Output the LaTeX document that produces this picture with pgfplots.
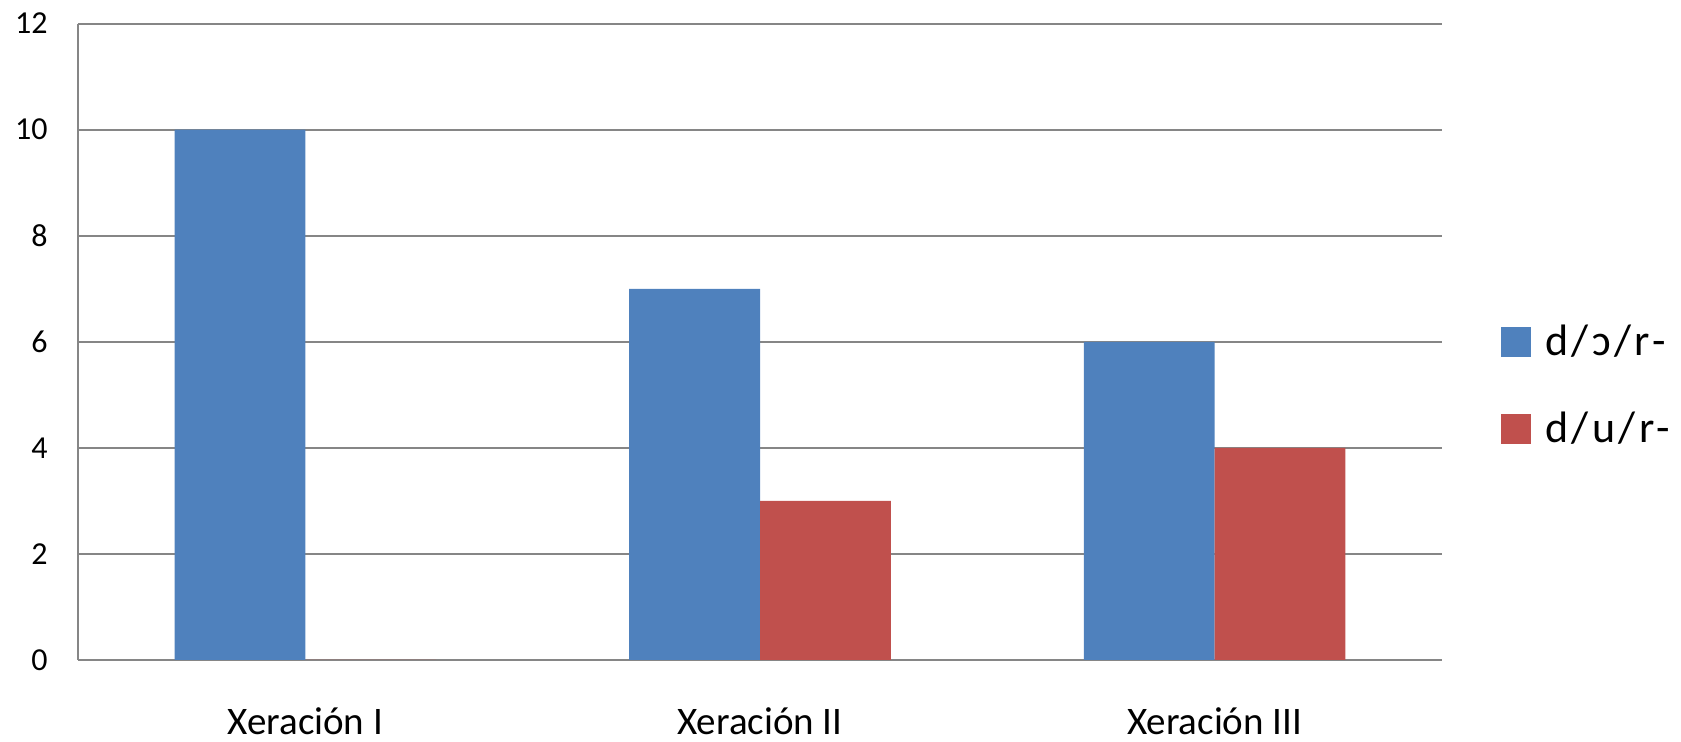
\documentclass[border=0pt]{standalone}
\usepackage{fontspec}
\setmainfont{Carlito}
\newfontfamily\legfont[LetterSpace=8]{Carlito}
\usepackage{pgfplots}
\pgfplotsset{compat=1.18}
\definecolor{serA}{RGB}{79,129,189}
\definecolor{serB}{RGB}{192,80,77}
\definecolor{gridgray}{RGB}{134,134,134}

\begin{document}
\begin{tikzpicture}
\begin{axis}[
    name=ax,
    scale only axis,
    width=682pt, height=318.2pt,
    xmin=-0.5, xmax=2.5,
    ymin=0, ymax=12,
    xtick={0,1,2},
    xticklabels={Xeración I, Xeración II, Xeración III},
    ytick={0,2,...,12},
    axis lines*=left,
    axis line style={gridgray, line width=1pt},
    ymajorgrids,
    grid style={gridgray, line width=1pt},
    major tick length=0pt,
    /pgf/number format/assume math mode=true,
    yticklabel style={font=\fontsize{16}{19}\selectfont, anchor=east, inner sep=0pt, xshift=-15pt},
    xticklabel style={font=\fontsize{19.5}{23}\selectfont, anchor=north, inner sep=0pt, yshift=-23.7pt},
    legend style={at={(1.043,0.4316)}, anchor=west, draw=none, fill=none, inner sep=0pt,
        font=\legfont\fontsize{22}{26}\selectfont, row sep=27pt,
        nodes={inner sep=0pt}},
    legend cell align=left,
    legend image code/.code={\fill[#1] (0pt,-7.5pt) rectangle (15pt,7.5pt);},
    /tikz/every odd column/.append style={column sep=7pt},
]
% d/ɔ/r-
\addplot[fill=serA, draw=none, ybar, bar width=0.2877, bar shift=-0.14385]
    coordinates {(0,10) (1,7) (2,6)};
\addlegendentry{d/ɔ/r-}
% d/u/r-
\addplot[fill=serB, draw=none, ybar, bar width=0.2877, bar shift=0.14385]
    coordinates {(0,0) (1,3) (2,4)};
\addlegendentry{d/u/r-}
\end{axis}
\pgfresetboundingbox
\path ([xshift=-39pt,yshift=-41pt]ax.south west) rectangle ([xshift=119.5pt,yshift=11.8pt]ax.north east);
\end{tikzpicture}
\end{document}
